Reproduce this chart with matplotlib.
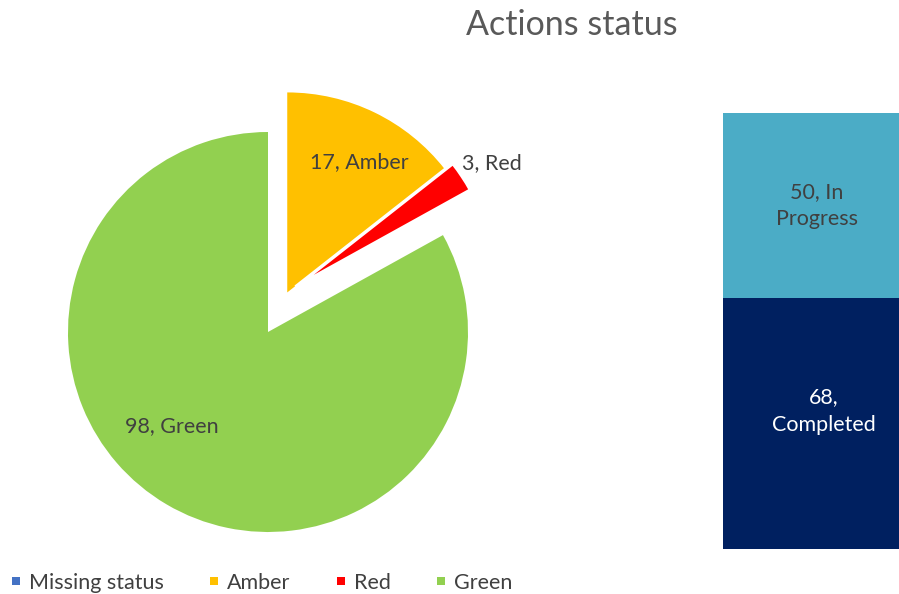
import numpy as np
import matplotlib.pyplot as plt
from matplotlib.lines import Line2D

plt.rcParams['font.family'] = ['Lato', 'DejaVu Sans']

# Status RAG
status_labels = ["Missing status", "Amber", "Red", "Green"]
status_values = [0, 17, 3, 98]
status_colors = ["#4472C4", "#FFC000", "#FF0000", "#92D050"]
status_explode = [0, 0.22, 0.22, 0]

# Progress tindakan
progress_labels = ["Completed", "In Progress"]
progress_values = [68, 50]
progress_colors = ["#002060", "#4BACC6"]

text_grey = "#404040"
fs = 15.5

fig = plt.figure(figsize=(8.99, 5.94), dpi=100)
W, H = 899, 594

fig.text(572 / W, 1 - 25 / H, "Actions status", ha="center", va="center",
         fontsize=24.5, color="#595959")

# Pie chart
ax_pie = fig.add_axes([18 / W, 12 / H, 500 / W, 500 / H])
wedges, _ = ax_pie.pie(status_values, colors=status_colors, explode=status_explode,
                       startangle=90, counterclock=False, radius=1,
                       wedgeprops=dict(linewidth=0))
# irisan merah digeser searah irisan amber, dengan tepi putih sebagai celah
amber_c = np.array(wedges[1].center)
red_w = wedges[2]
mid = np.deg2rad((red_w.theta1 + red_w.theta2) / 2)
red_w.set_center(tuple(amber_c + 0.05 * np.array([np.cos(mid), np.sin(mid)])))
red_w.set_edgecolor("white")
red_w.set_linewidth(2.5)

ax_pie.set_xlim(-1.25, 1.25)
ax_pie.set_ylim(-1.25, 1.25)
ax_pie.set_aspect("equal")
ax_pie.axis("off")

pie_label_pos = {"Amber": (0.455, 0.85), "Red": (1.12, 0.845), "Green": (-0.48, -0.47)}
for lbl, val in zip(status_labels, status_values):
    if lbl in pie_label_pos:
        x, y = pie_label_pos[lbl]
        ax_pie.text(x, y, f"{val}, {lbl}", ha="center", va="center",
                    fontsize=fs, color=text_grey)

# Stacked bar
ax_bar = fig.add_axes([723 / W, 45 / H, 200 / W, 436 / H])
bottom = 0
for lbl, val, col in zip(progress_labels, progress_values, progress_colors):
    ax_bar.bar(0, val, bottom=bottom, width=1.0, color=col, linewidth=0)
    bottom += val
ax_bar.set_xlim(-0.5, 0.5)
ax_bar.set_ylim(0, sum(progress_values))
ax_bar.axis("off")

ax_bar.text(0.005, progress_values[0] / 2 + 3.3, f"{progress_values[0]},\n{progress_labels[0]}",
            ha="center", va="center", fontsize=fs, color="white", linespacing=1.45)
ax_bar.text(-0.03, progress_values[0] + progress_values[1] / 2, f"{progress_values[1]}, In\nProgress",
            ha="center", va="center", fontsize=fs, color=text_grey, linespacing=1.45)

# Legend
handles = [Line2D([], [], marker="s", linestyle="none", markersize=6,
                  markerfacecolor=c, markeredgewidth=0) for c in status_colors]
fig.legend(handles, status_labels, loc="center left", bbox_to_anchor=(4 / W, 1 - 583 / H),
           ncol=4, frameon=False, fontsize=fs, handlelength=0.5, handletextpad=0.35,
           columnspacing=2.1, labelcolor=text_grey, borderaxespad=0, borderpad=0.3)

fig.savefig("out.png", dpi=100)
